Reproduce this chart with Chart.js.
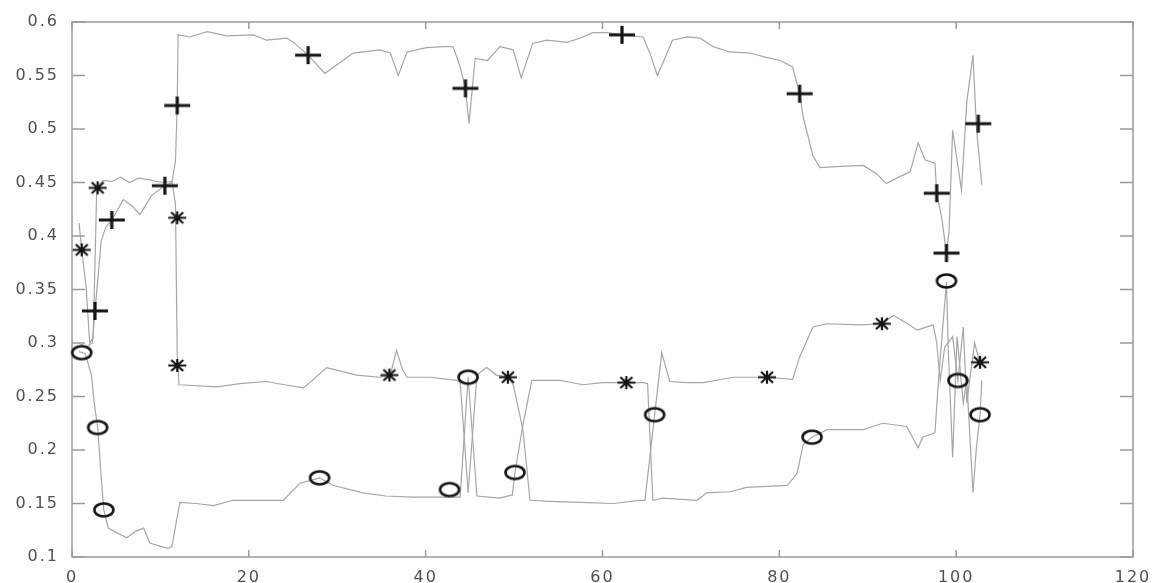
<!DOCTYPE html>
<html>
<head>
<meta charset="utf-8">
<script src="https://cdn.jsdelivr.net/npm/chart.js@4.4.1/dist/chart.umd.min.js"></script>
<style>
  html, body { margin: 0; padding: 0; background: #fff; }
</style>
</head>
<body>
<canvas id="myChart" width="1154" height="583"></canvas>
<script>
// Valeurs
const xTicks = [0, 20, 40, 60, 80, 100, 120];
const yTicks = [0.1, 0.15, 0.2, 0.25, 0.3, 0.35, 0.4, 0.45, 0.5, 0.55, 0.6];
const yTickLabels = ['0.1', '0.15', '0.2', '0.25', '0.3', '0.35', '0.4', '0.45', '0.5', '0.55', '0.6'];

// courbe du haut (celle des +)
const lineAX = [0.8, 1.6, 2.3, 2.6, 3.3, 3.8, 4.5, 5.8, 6.8, 7.7, 9.0, 10.5, 11.3, 11.7, 11.9, 12.0, 13.3, 15.3, 17.5, 20.5,
  22.0, 24.3, 25.2, 26.7, 28.6, 30.3, 31.8, 34.8, 36.0, 36.9, 37.9, 40.1, 42.0, 43.1, 43.9, 44.5, 44.9, 45.6, 47.0, 48.4,
  49.9, 50.8, 52.1, 53.7, 56.0, 57.5, 58.9, 60.5, 62.2, 64.6, 65.4, 66.2, 67.0, 67.9, 69.6, 71.0, 72.5, 74.4, 76.7, 78.5,
  80.1, 81.5, 82.3, 82.7, 83.8, 84.6, 87.0, 89.5, 91.0, 92.1, 93.5, 94.8, 95.7, 96.5, 97.6, 97.8, 98.4, 98.9, 99.2, 99.6,
  100.6, 101.2, 101.9, 102.3, 102.9];
const lineAY = [0.300, 0.296, 0.300, 0.330, 0.395, 0.408, 0.415, 0.434, 0.428, 0.420, 0.438, 0.447, 0.450, 0.470, 0.522, 0.588, 0.586, 0.591, 0.587, 0.588,
  0.583, 0.585, 0.580, 0.569, 0.552, 0.562, 0.571, 0.574, 0.571, 0.550, 0.572, 0.576, 0.577, 0.577, 0.558, 0.538, 0.505, 0.566, 0.564, 0.577,
  0.574, 0.548, 0.580, 0.583, 0.581, 0.585, 0.590, 0.590, 0.588, 0.586, 0.570, 0.550, 0.565, 0.583, 0.586, 0.585, 0.577, 0.572, 0.571, 0.567,
  0.564, 0.558, 0.533, 0.511, 0.475, 0.464, 0.465, 0.466, 0.458, 0.449, 0.455, 0.460, 0.487, 0.471, 0.468, 0.440, 0.415, 0.384, 0.405, 0.499,
  0.443, 0.525, 0.569, 0.500, 0.448];

// courbe du milieu (celle des *)
const lineBX = [0.8, 1.1, 1.6, 2.0, 2.4, 2.8, 3.5, 4.5, 5.5, 6.5, 7.5, 8.5, 9.5, 10.5, 11.3, 11.7, 11.9, 12.1, 16.4, 19.0,
  22.0, 24.0, 26.2, 28.8, 32.2, 34.8, 36.0, 36.7, 37.4, 37.9, 40.5, 43.5, 43.9, 44.8, 45.8, 46.9, 48.0, 49.3, 49.9, 51.0,
  51.8, 54.0, 57.5, 61.2, 64.2, 64.8, 65.9, 66.7, 67.6, 69.5, 71.4, 74.8, 77.0, 78.6, 81.5, 82.3, 83.8, 85.4, 89.1, 91.6,
  92.9, 94.5, 95.6, 97.4, 97.8, 98.2, 98.7, 99.6, 100.2, 100.8, 101.2, 101.6, 102.1, 102.7];
const lineBY = [0.412, 0.387, 0.352, 0.300, 0.305, 0.445, 0.452, 0.451, 0.455, 0.450, 0.454, 0.453, 0.451, 0.450, 0.451, 0.430, 0.290, 0.261, 0.259, 0.262,
  0.264, 0.261, 0.258, 0.277, 0.270, 0.268, 0.270, 0.293, 0.275, 0.268, 0.268, 0.265, 0.264, 0.160, 0.270, 0.277, 0.270, 0.268, 0.261, 0.219,
  0.153, 0.152, 0.151, 0.150, 0.153, 0.153, 0.233, 0.291, 0.264, 0.263, 0.263, 0.268, 0.268, 0.268, 0.266, 0.287, 0.315, 0.318, 0.317, 0.318,
  0.326, 0.318, 0.312, 0.317, 0.300, 0.265, 0.296, 0.306, 0.265, 0.315, 0.244, 0.270, 0.300, 0.280];

// courbe du bas (celle des o)
const lineCX = [0.8, 1.5, 2.2, 2.5, 2.9, 3.3, 3.6, 4.1, 5.0, 6.2, 7.2, 8.1, 8.8, 10.0, 10.9, 11.3, 12.2, 14.0, 16.0, 18.2,
  21.0, 23.9, 25.8, 28.0, 29.5, 32.9, 35.5, 38.6, 43.9, 44.8, 45.8, 48.4, 49.8, 50.1, 50.9, 52.0, 55.2, 57.8, 60.0, 62.7,
  64.6, 65.1, 65.7, 66.8, 70.7, 71.8, 74.4, 76.3, 80.9, 82.0, 82.7, 83.7, 85.4, 89.5, 91.7, 94.4, 95.7, 96.2, 97.6, 98.0,
  98.9, 99.1, 99.6, 100.1, 100.8, 101.2, 101.9, 102.3, 102.7, 102.9];
const lineCY = [0.292, 0.290, 0.270, 0.245, 0.221, 0.175, 0.144, 0.127, 0.123, 0.118, 0.124, 0.127, 0.113, 0.110, 0.108, 0.110, 0.151, 0.150, 0.148, 0.153,
  0.153, 0.153, 0.169, 0.174, 0.167, 0.160, 0.157, 0.156, 0.156, 0.268, 0.157, 0.155, 0.158, 0.179, 0.219, 0.265, 0.265, 0.261, 0.263, 0.263,
  0.263, 0.262, 0.153, 0.155, 0.153, 0.160, 0.161, 0.165, 0.167, 0.178, 0.205, 0.212, 0.219, 0.219, 0.225, 0.222, 0.202, 0.212, 0.216, 0.265,
  0.357, 0.296, 0.193, 0.306, 0.244, 0.265, 0.160, 0.203, 0.233, 0.265];

// marqueurs
const plusX = [2.6, 4.5, 10.5, 11.9, 26.7, 44.5, 62.2, 82.3, 97.8, 98.9, 102.5];
const plusY = [0.330, 0.415, 0.447, 0.522, 0.569, 0.538, 0.588, 0.533, 0.440, 0.384, 0.505];
const starX = [1.1, 2.9, 11.9, 11.9, 35.9, 49.3, 62.7, 78.6, 91.6, 102.7];
const starY = [0.387, 0.445, 0.417, 0.279, 0.270, 0.268, 0.263, 0.268, 0.318, 0.282];
const circX = [1.1, 2.9, 3.6, 28.0, 42.7, 44.8, 50.1, 65.9, 83.7, 98.9, 100.2, 102.7];
const circY = [0.291, 0.221, 0.144, 0.174, 0.163, 0.268, 0.179, 0.233, 0.212, 0.358, 0.265, 0.233];

const pts = (xs, ys) => xs.map((x, i) => ({ x: x, y: ys[i] }));

// petites images pour les marqueurs (un peu plus larges que hautes, comme sur l'image)
function marker(w, h, lw, draw) {
    const c = document.createElement('canvas');
    c.width = w;
    c.height = h;
    const g = c.getContext('2d');
    g.strokeStyle = '#151515';
    g.lineWidth = lw;
    g.beginPath();
    draw(g, w, h);
    g.stroke();
    return c;
}
const plusMark = marker(28, 20, 3.2, (g, w, h) => {
    g.moveTo(1, h / 2); g.lineTo(w - 1, h / 2);
    g.moveTo(w / 2, 1); g.lineTo(w / 2, h - 1);
});
const starMark = marker(20, 15, 2.2, (g, w, h) => {
    g.moveTo(1, h / 2); g.lineTo(w - 1, h / 2);
    g.moveTo(w / 2, 1); g.lineTo(w / 2, h - 1);
    g.moveTo(4, 2); g.lineTo(w - 4, h - 2);
    g.moveTo(w - 4, 2); g.lineTo(4, h - 2);
});
const circMark = marker(24, 18, 2.6, (g, w, h) => {
    g.ellipse(w / 2, h / 2, 9.5, 6.5, 0, 0, Math.PI * 2);
});

const lineStyle = { showLine: true, pointRadius: 0, borderColor: '#a6a6a6', borderWidth: 1.2, tension: 0, order: 1 };
const markStyle = { showLine: false, pointRadius: 5, clip: false, order: 0 };

// cadre et graduations vers l'intérieur
const frame = {
    id: 'frame',
    beforeDraw(chart) {
        chart.ctx.letterSpacing = '2px';
    },
    beforeDatasetsDraw(chart) {
        const { ctx, chartArea: a, scales } = chart;
        ctx.save();
        ctx.strokeStyle = '#9a9a9a';
        ctx.lineWidth = 1.5;
        ctx.strokeRect(a.left, a.top, a.right - a.left, a.bottom - a.top);
        ctx.beginPath();
        xTicks.forEach(v => {
            const px = scales.x.getPixelForValue(v);
            ctx.moveTo(px, a.bottom); ctx.lineTo(px, a.bottom - 7);
            ctx.moveTo(px, a.top); ctx.lineTo(px, a.top + 7);
        });
        yTicks.forEach(v => {
            const py = scales.y.getPixelForValue(v);
            ctx.moveTo(a.left, py); ctx.lineTo(a.left + 13, py);
            ctx.moveTo(a.right, py); ctx.lineTo(a.right - 13, py);
        });
        ctx.stroke();
        ctx.restore();
    }
};

const tickFont = { family: 'DejaVu Sans', size: 16 };

const ctx = document.getElementById('myChart').getContext('2d');
const myChart = new Chart(ctx, {
    type: 'scatter',
    data: {
        datasets: [
            { ...markStyle, data: pts(plusX, plusY), pointStyle: plusMark },
            { ...markStyle, data: pts(starX, starY), pointStyle: starMark },
            { ...markStyle, data: pts(circX, circY), pointStyle: circMark },
            { ...lineStyle, data: pts(lineAX, lineAY) },
            { ...lineStyle, data: pts(lineBX, lineBY) },
            { ...lineStyle, data: pts(lineCX, lineCY) }
        ]
    },
    options: {
        responsive: false,
        animation: false,
        layout: { padding: { top: 22, right: 21, left: 0, bottom: 0 } },
        plugins: { legend: { display: false }, tooltip: { enabled: false } },
        scales: {
            x: {
                type: 'linear',
                min: 0,
                max: 120,
                grid: { display: false },
                border: { display: false },
                afterBuildTicks: s => { s.ticks = xTicks.map(v => ({ value: v })); },
                afterFit: s => { s.height = 26; },
                ticks: { font: tickFont, color: '#505050', padding: 3, maxRotation: 0 }
            },
            y: {
                min: 0.1,
                max: 0.6,
                grid: { display: false },
                border: { display: false },
                afterBuildTicks: s => { s.ticks = yTicks.map(v => ({ value: v })); },
                afterFit: s => { s.width = 72; },
                ticks: {
                    font: tickFont,
                    color: '#505050',
                    padding: 5,
                    callback: (v, i) => yTickLabels[i]
                }
            }
        }
    },
    plugins: [frame]
});
</script>
</body>
</html>
